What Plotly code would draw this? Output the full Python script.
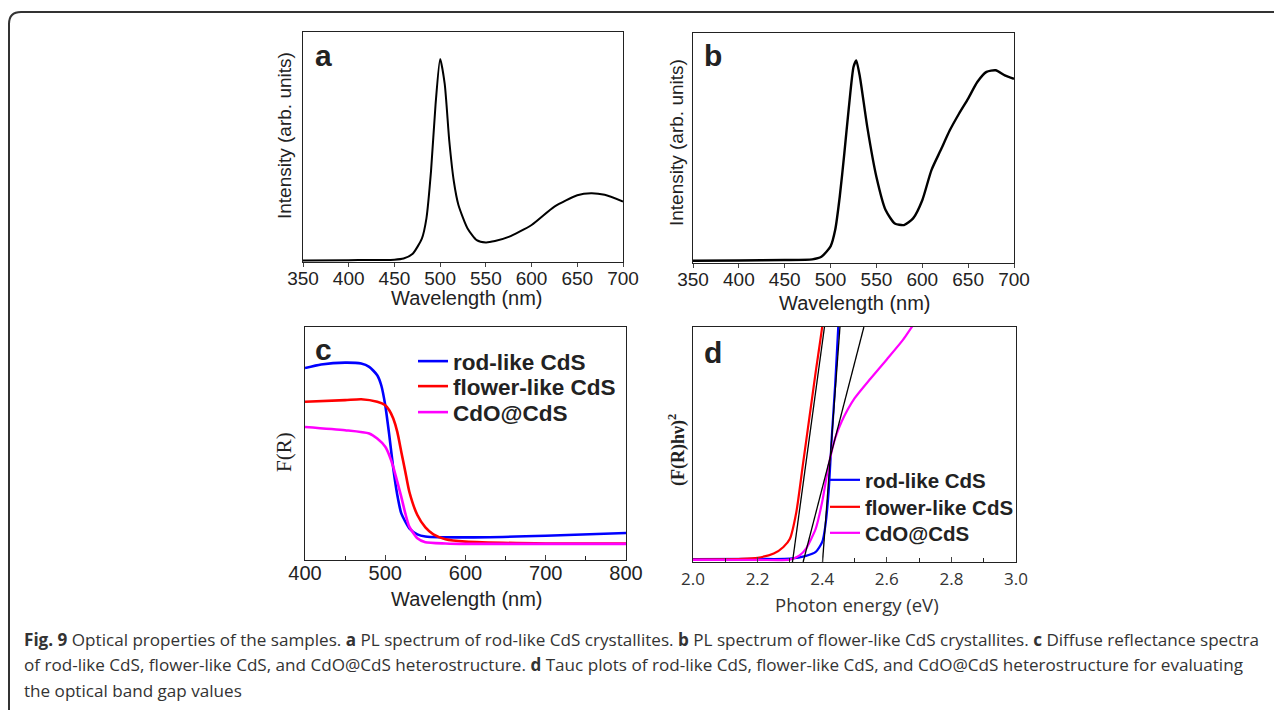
import plotly.graph_objects as go

W, H = 1282, 710

# ---------------- data ----------------
# panel a: PL spectrum rod-like CdS
a_wl = [350, 400, 450, 460, 470, 480, 485, 490, 495, 500, 505, 510, 515, 520, 530, 540,
        550, 560, 575, 600, 625, 650, 665, 680, 700]
a_int = [0.007, 0.008, 0.010, 0.015, 0.036, 0.102, 0.190, 0.394, 0.686, 0.883, 0.774, 0.526,
         0.350, 0.248, 0.146, 0.095, 0.085, 0.091, 0.109, 0.161, 0.241, 0.290, 0.299, 0.292, 0.263]

# panel b: PL spectrum flower-like CdS
b_wl = [350, 400, 450, 480, 490, 500, 505, 510, 515, 520, 525, 528, 532, 540, 550, 560, 570,
        580, 590, 600, 610, 620, 630, 640, 650, 660, 670, 680, 690, 700]
b_int = [0.010, 0.011, 0.013, 0.016, 0.027, 0.072, 0.143, 0.288, 0.477, 0.679, 0.852, 0.881,
         0.809, 0.592, 0.374, 0.230, 0.172, 0.165, 0.194, 0.273, 0.404, 0.490, 0.577, 0.649,
         0.715, 0.787, 0.831, 0.838, 0.816, 0.801]

# panel c: diffuse reflectance F(R)
c_rod_wl = [400, 420, 450, 470, 480, 490, 495, 500, 505, 510, 515, 520, 530, 540, 550, 600, 700, 800]
c_rod = [0.824, 0.839, 0.847, 0.843, 0.829, 0.793, 0.750, 0.664, 0.536, 0.393, 0.279, 0.200,
         0.136, 0.110, 0.101, 0.097, 0.104, 0.116]
c_flo_wl = [400, 450, 470, 490, 500, 505, 510, 515, 520, 525, 530, 540, 550, 560, 575, 600, 700, 800]
c_flo = [0.679, 0.686, 0.690, 0.679, 0.664, 0.643, 0.607, 0.550, 0.464, 0.379, 0.293, 0.193,
         0.140, 0.110, 0.089, 0.079, 0.071, 0.071]
c_cdo_wl = [400, 450, 480, 490, 500, 505, 510, 515, 520, 525, 530, 540, 550, 575, 600, 800]
c_cdo = [0.571, 0.557, 0.543, 0.521, 0.486, 0.450, 0.400, 0.336, 0.271, 0.200, 0.143, 0.093,
         0.076, 0.071, 0.069, 0.069]

# panel d: Tauc plots
d_rod_e = [2.00, 2.20, 2.30, 2.35, 2.38, 2.40, 2.41, 2.42, 2.43, 2.44, 2.45, 2.46]
d_rod = [0.012, 0.013, 0.014, 0.026, 0.043, 0.085, 0.156, 0.298, 0.540, 0.753, 1.009, 1.25]
d_flo_e = [2.00, 2.10, 2.15, 2.20, 2.25, 2.28, 2.30, 2.32, 2.34, 2.36, 2.38, 2.40, 2.42]
d_flo = [0.010, 0.011, 0.013, 0.018, 0.036, 0.064, 0.099, 0.213, 0.412, 0.611, 0.810, 1.001, 1.25]
d_cdo_e = [2.00, 2.20, 2.30, 2.33, 2.35, 2.38, 2.40, 2.42, 2.44, 2.46, 2.50, 2.55, 2.60, 2.65, 2.68, 2.70]
d_cdo = [0.009, 0.009, 0.010, 0.028, 0.057, 0.142, 0.256, 0.412, 0.526, 0.597, 0.696, 0.781,
         0.862, 0.945, 1.005, 1.04]
# tangent lines (energy, value) end points
tan_rod_e, tan_rod = [2.401, 2.455], [0.0, 1.0]
tan_flo_e, tan_flo = [2.308, 2.407], [0.0, 1.0]
tan_cdo_e, tan_cdo = [2.341, 2.529], [0.0, 1.0]

legend_names = ["rod-like CdS", "flower-like CdS", "CdO@CdS"]
colors = ["#0000ff", "#ff0000", "#ff00ff"]

# ---------------- layout helpers ----------------
OFF = 8  # page body margin

def px(x):
    return (x - OFF) / W

def py(y):
    return 1 - (y - OFF) / H

fig = go.Figure()

fig.add_trace(go.Scatter(x=a_wl, y=a_int, mode="lines",
                         line=dict(color="black", width=2, shape="spline", smoothing=0.6),
                         xaxis="x", yaxis="y", showlegend=False))
fig.add_trace(go.Scatter(x=b_wl, y=b_int, mode="lines",
                         line=dict(color="black", width=2.4, shape="spline", smoothing=0.6),
                         xaxis="x2", yaxis="y2", showlegend=False))
c_legends = ["legend", "legend2", "legend3"]
d_legends = ["legend4", "legend5", "legend6"]
for wl, vals, name, col, lg in [(c_rod_wl, c_rod, legend_names[0], colors[0], c_legends[0]),
                                (c_flo_wl, c_flo, legend_names[1], colors[1], c_legends[1]),
                                (c_cdo_wl, c_cdo, legend_names[2], colors[2], c_legends[2])]:
    fig.add_trace(go.Scatter(x=wl, y=vals, mode="lines", name="<b>" + name + "</b>",
                             line=dict(color=col, width=2.6, shape="spline", smoothing=0.6),
                             xaxis="x3", yaxis="y3", legend=lg))
for e, vals, name, col, lg in [(d_rod_e, d_rod, legend_names[0], colors[0], d_legends[0]),
                               (d_flo_e, d_flo, legend_names[1], colors[1], d_legends[1]),
                               (d_cdo_e, d_cdo, legend_names[2], colors[2], d_legends[2])]:
    fig.add_trace(go.Scatter(x=e, y=vals, mode="lines", name="<b>" + name + "</b>",
                             line=dict(color=col, width=2.2, shape="spline", smoothing=0.6),
                             xaxis="x4", yaxis="y4", legend=lg))
for e, vals in [(tan_rod_e, tan_rod), (tan_flo_e, tan_flo), (tan_cdo_e, tan_cdo)]:
    fig.add_trace(go.Scatter(x=e, y=vals, mode="lines", line=dict(color="black", width=1.3),
                             xaxis="x4", yaxis="y4", showlegend=False))

axis_common = dict(showline=True, linecolor="#222", linewidth=1.4, mirror=True, showgrid=False,
                   zeroline=False, automargin=False)
tickfont = dict(family="Arial, Liberation Sans", size=19, color="#222")

def legend_at(x, y, size):
    return dict(x=px(x), y=py(y), xanchor="left", yanchor="top", bgcolor="rgba(0,0,0,0)",
                font=dict(family="Arial, Liberation Sans", size=size, color="#222"),
                tracegroupgap=0, itemwidth=30)

fig.update_layout(
    template="none",
    width=W, height=H, margin=dict(l=0, r=0, t=0, b=0, pad=0, autoexpand=False),
    paper_bgcolor="white", plot_bgcolor="white",
    xaxis=dict(domain=[px(303), px(623)], range=[350, 700], dtick=50, ticks="outside", ticklen=4,
               ticklabelstandoff=-5, tickfont=tickfont, anchor="y", **axis_common),
    yaxis=dict(domain=[py(262), py(32)], range=[0, 1], showticklabels=False, ticks="",
               anchor="x", **axis_common),
    xaxis2=dict(domain=[px(693), px(1014)], range=[350, 700], dtick=50, ticks="outside", ticklen=4,
                ticklabelstandoff=-5, tickfont=tickfont, anchor="y2", **axis_common),
    yaxis2=dict(domain=[py(263), py(33)], range=[0, 1], showticklabels=False, ticks="",
                anchor="x2", **axis_common),
    xaxis3=dict(domain=[px(305), px(626)], range=[400, 800], dtick=100, ticks="inside", ticklen=5,
                minor=dict(dtick=50, ticks="inside", ticklen=4, tickcolor="#222"),
                ticklabelstandoff=-5,
                tickfont=dict(family="Arial, Liberation Sans", size=20, color="#222"), anchor="y3", **axis_common),
    yaxis3=dict(domain=[py(560), py(327)], range=[0, 1], showticklabels=False, ticks="",
                anchor="x3", **axis_common),
    xaxis4=dict(domain=[px(693), px(1016)], range=[2.0, 3.0], dtick=0.2, tickformat=".1f",
                ticks="inside", ticklen=5,
                minor=dict(dtick=0.1, ticks="inside", ticklen=4, tickcolor="#222"),
                ticklabelstandoff=1,
                tickfont=dict(family="Open Sans", size=17, color="#333"), anchor="y4", **axis_common),
    yaxis4=dict(domain=[py(562), py(327)], range=[0, 1], showticklabels=False, ticks="",
                anchor="x4", **axis_common),
    legend=legend_at(413, 340, 22.5),
    legend2=legend_at(413, 365, 22.5),
    legend3=legend_at(413, 391, 22.5),
    legend4=legend_at(825, 460, 20.5),
    legend5=legend_at(825, 487, 20.5),
    legend6=legend_at(825, 513, 20.5),
)

ann = []
def add_text(x, y, text, size, family="Arial, Liberation Sans", angle=0, color="#222", xanchor="center"):
    ann.append(dict(x=px(x), y=py(y), xref="paper", yref="paper", text=text, showarrow=False,
                    font=dict(family=family, size=size, color=color), textangle=angle,
                    xanchor=xanchor, yanchor="middle"))

# panel letters
add_text(323, 55, "<b>a</b>", 30)
add_text(713, 55, "<b>b</b>", 30)
add_text(323, 349, "<b>c</b>", 30)
add_text(713, 352, "<b>d</b>", 30)
# axis titles
add_text(285, 136, "Intensity (arb. units)", 19, angle=-90)
add_text(677, 143, "Intensity (arb. units)", 19, angle=-90)
add_text(467, 298, "Wavelength (nm)", 20)
add_text(855, 303, "Wavelength (nm)", 20)
add_text(284, 452, "F(R)", 21, family="Liberation Serif, Times New Roman", angle=-90)
add_text(677, 450, "<b>(F(R)hν)<sup>2</sup></b>", 18, family="Liberation Serif, Times New Roman", angle=-90)
add_text(467, 599, "Wavelength (nm)", 20)
add_text(857, 604, "Photon energy (eV)", 18.5, family="Open Sans", color="#333")

# caption
cap = [
    (639, "<b>Fig. 9</b> Optical properties of the samples. <b>a</b> PL spectrum of rod-like CdS crystallites. <b>b</b> PL spectrum of flower-like CdS crystallites. <b>c</b> Diffuse reflectance spectra"),
    (664, "of rod-like CdS, flower-like CdS, and CdO@CdS heterostructure. <b>d</b> Tauc plots of rod-like CdS, flower-like CdS, and CdO@CdS heterostructure for evaluating"),
    (690, "the optical band gap values"),
]
for y, t in cap:
    add_text(22, y, t, 17.1, family="Open Sans", color="#333", xanchor="left")

fig.update_layout(annotations=ann)

# outer rounded frame
r = 12
x0, y0, x1, y1 = 9, 12, 1300, 730
path = (f"M {px(x0)},{py(y1)} L {px(x0)},{py(y0 + r)} "
        f"Q {px(x0)},{py(y0)} {px(x0 + r)},{py(y0)} L {px(x1)},{py(y0)}")
fig.add_shape(type="path", path=path, xref="paper", yref="paper",
              line=dict(color="#333", width=2))

fig.write_html("out.html")
